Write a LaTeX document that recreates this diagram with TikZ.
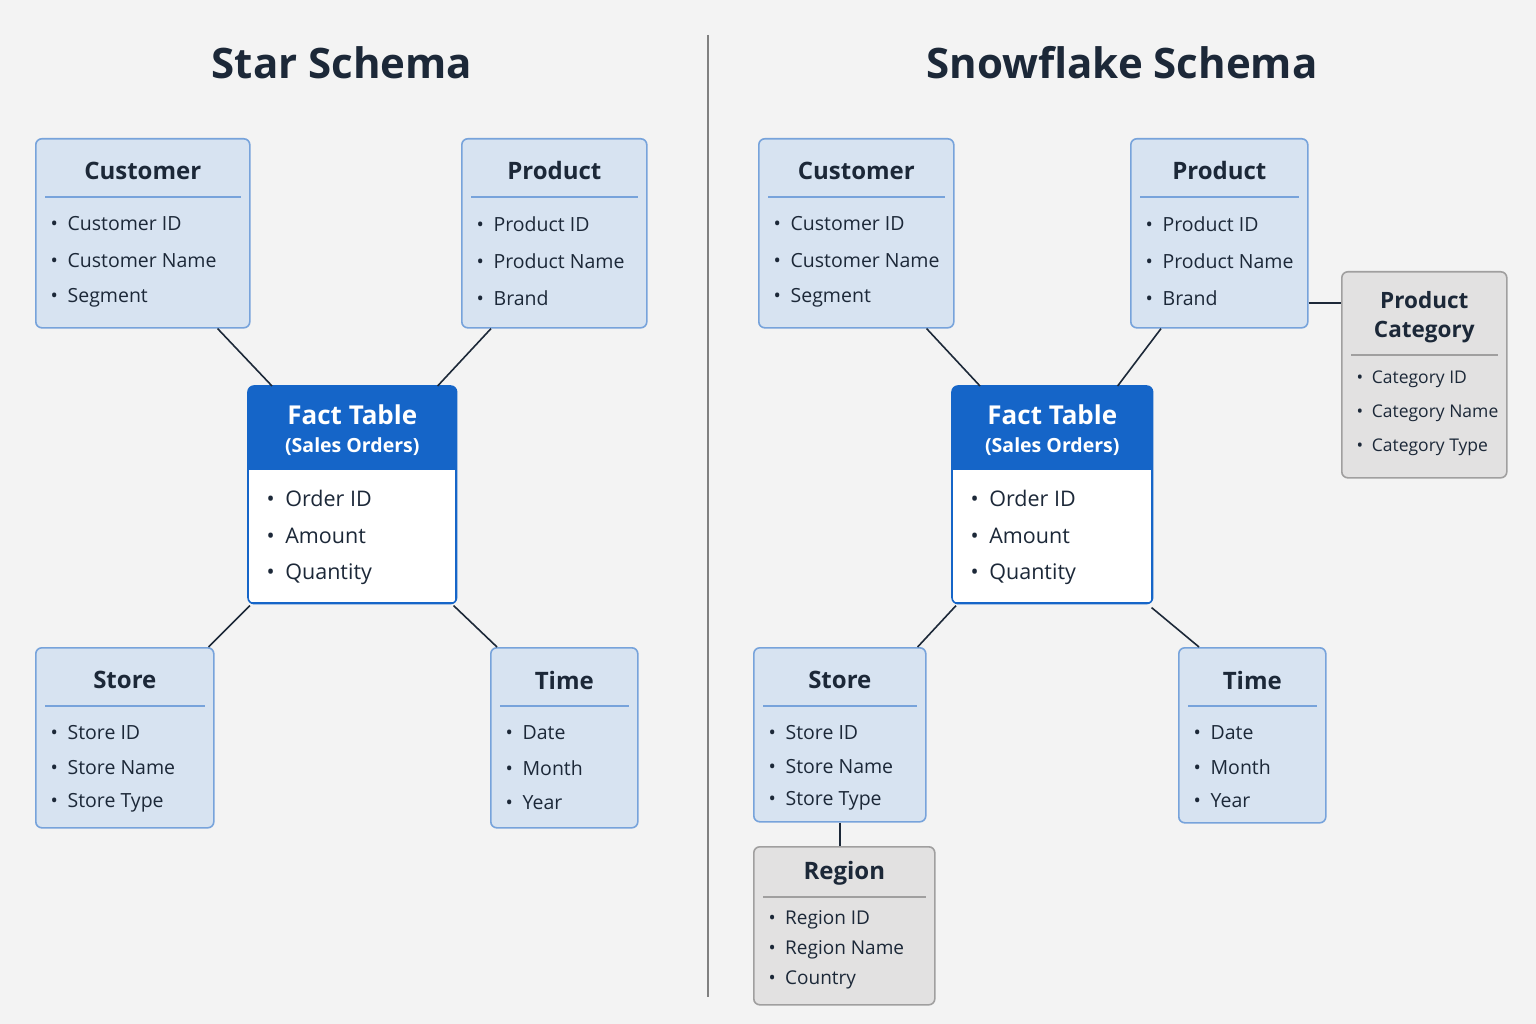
\documentclass[tikz,border=0pt]{standalone}
\usepackage{fontspec}
\setmainfont{Open Sans}
\usetikzlibrary{calc}
\definecolor{bg}{HTML}{F3F3F3}
\definecolor{dimf}{HTML}{D7E3F1}
\definecolor{dimd}{HTML}{77A3DB}
\definecolor{factb}{HTML}{1565C8}
\definecolor{grf}{HTML}{E2E1E1}
\definecolor{grd}{HTML}{A09F9F}
\definecolor{ink}{HTML}{1C2838}
\tikzset{
 box/.style={draw=dimd,fill=dimf,line width=1.6pt,rounded corners=6pt,anchor=north west,inner sep=0pt},
 gbox/.style={box,draw=grd,fill=grf},
 ttl/.style={font=\fontsize{24}{28}\selectfont\bfseries,text=ink},
 itm/.style={font=\fontsize{19.5}{22}\selectfont,text=ink,anchor=west},
 sitm/.style={font=\fontsize{18}{20}\selectfont,text=ink,anchor=west},
 sep/.style={dimd,line width=1.4pt},
 gsep/.style={grd,line width=1.4pt},
 conn/.style={line width=1.6pt,ink},
}
\begin{document}
\begin{tikzpicture}[x=1pt,y=-1pt]
\fill[bg] (0,0) rectangle (1536,1024);
\useasboundingbox (0,0) rectangle (1536,1024);
\node[font=\fontsize{42}{50}\selectfont\bfseries,text=ink] (t1) at (342,63) {Star Schema};
\node[font=\fontsize{42}{50}\selectfont\bfseries,text=ink] (t2) at (1122,63) {Snowflake Schema};
\draw[line width=1.6pt,gray] (708,35) -- (708,997);

\newcommand\ent[9]{%
 \node[#9,minimum width=#4pt,minimum height=#5pt] (#1) at (#2,#3) {};
 \node[ttl] at ($(#1.north)+(0,33)$) {#6};
 \draw[sep] ($(#1.north west)+(10,59)$) -- ($(#1.north east)+(-10,59)$);
 \foreach \t [count=\i] in {#7} \node[itm] at ($(#1.north west)+(12,{86+(\i-1)*#8})$) {\textbullet\enspace\t};
}
\ent{sc}{35}{138}{214}{189}{Customer}{Customer ID,Customer Name,Segment}{37}{box}
\ent{sp}{461}{138}{185}{189}{Product}{Product ID,Product Name,Brand}{37}{box}
\ent{ss}{35}{647}{178}{180}{Store}{Store ID,Store Name,Store Type}{35}{box}
\ent{st}{490}{647}{147}{180}{Time}{Date,Month,Year}{35}{box}
\ent{fc}{758}{138}{195}{189}{Customer}{Customer ID,Customer Name,Segment}{37}{box}
\ent{fp}{1130}{138}{177}{189}{Product}{Product ID,Product Name,Brand}{37}{box}
\ent{fs}{753}{647}{172}{174}{Store}{Store ID,Store Name,Store Type}{34}{box}
\ent{ft}{1178}{647}{147}{175}{Time}{Date,Month,Year}{34}{box}
% region
\node[gbox,minimum width=181pt,minimum height=158pt] (rg) at (753,846) {};
\node[ttl] at ($(rg.north)+(0,27)$) {Region};
\draw[gsep] ($(rg.north west)+(10,51)$) -- ($(rg.north east)+(-10,51)$);
\foreach \t [count=\i] in {Region ID,Region Name,Country} \node[itm,font=\fontsize{19}{22}\selectfont] at ($(rg.north west)+(12,{74+(\i-1)*30})$) {\textbullet\enspace\t};
% product category
\node[gbox,minimum width=165pt,minimum height=206pt] (pc) at (1341,271) {};
\node[ttl,align=center,font=\fontsize{22.5}{29}\selectfont\bfseries] at ($(pc.north)+(0,46)$) {Product\\Category};
\draw[gsep] ($(pc.north west)+(10,84)$) -- ($(pc.north east)+(-10,84)$);
\foreach \t [count=\i] in {Category ID,Category Name,Category Type} \node[sitm,font=\fontsize{17.5}{20}\selectfont] at ($(pc.north west)+(12,{108+(\i-1)*34})$) {\textbullet\enspace\t};

\newcommand\fact[4]{%
 \node[draw=factb,fill=factb,line width=1.6pt,rounded corners=6pt,anchor=north west,minimum width=#4pt,minimum height=216pt,inner sep=0pt] (#1) at (#2,#3) {};
 \begin{scope}
 \clip[rounded corners=6pt] (#1.north west) rectangle (#1.south east);
 \fill[white] (#2,#3+84) rectangle (#2+#4,#3+216);
 \end{scope}
 \draw[factb,line width=1.6pt,rounded corners=6pt] (#1.north west) rectangle (#1.south east);
 \node[font=\fontsize{26}{30}\selectfont\bfseries,text=white] at ($(#1.north)+(0,29)$) {Fact Table};
 \node[font=\fontsize{19.5}{22}\selectfont\bfseries,text=white] at ($(#1.north)+(0,61)$) {(Sales Orders)};
 \foreach \t [count=\i] in {Order ID,Amount,Quantity} \node[itm,font=\fontsize{21.5}{24}\selectfont] at ($(#1.north west)+(15,{112+(\i-1)*38})$) {\textbullet\enspace\t};
}
\fact{sf}{248}{386}{207}
\fact{ff}{952}{386}{199}

\draw[conn] ([xshift=-33]sc.south east) -- ([xshift=24]sf.north west);
\draw[conn] ([xshift=30]sp.south west) -- ([xshift=-19]sf.north east);
\draw[conn] ([xshift=-6]ss.north east) -- ([xshift=2,yshift=-2]sf.south west);
\draw[conn] ([xshift=7]st.north west) -- ([xshift=-3,yshift=-2]sf.south east);
\draw[conn] ([xshift=-28]fc.south east) -- ([xshift=28]ff.north west);
\draw[conn] ([xshift=31]fp.south west) -- ([xshift=-35]ff.north east);
\draw[conn] ([xshift=-9]fs.north east) -- ([xshift=4,yshift=-2]ff.south west);
\draw[conn] ([xshift=21]ft.north west) -- ([xshift=-1,yshift=-4]ff.south east);
\draw[conn] ($(fp.north east)+(0,165)$) -- ($(pc.north west)+(0,32)$);
\draw[conn] ($(fs.south west)+(87,0)$) -- ($(rg.north west)+(87,0)$);
\end{tikzpicture}
\end{document}
